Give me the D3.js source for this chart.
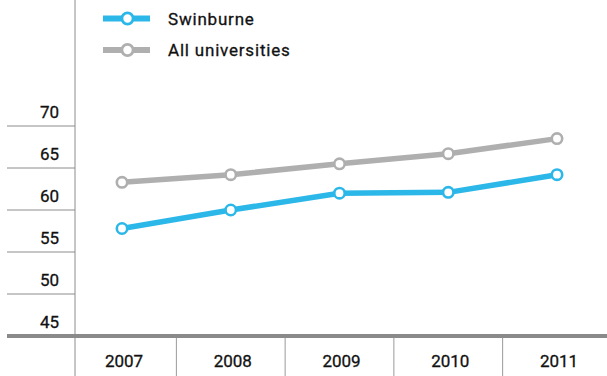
<!DOCTYPE html>
<html><head><meta charset="utf-8">
<script src="https://cdn.jsdelivr.net/npm/d3@7"></script>
<style>html,body{margin:0;padding:0;background:#fff;overflow:hidden}</style>
</head><body>
<svg id="chart" width="607" height="376"></svg>
<script>
const years = ["2007","2008","2009","2010","2011"];
const swinburne = [57.8, 60, 62, 62.1, 64.2];
const allUnis = [63.3, 64.2, 65.5, 66.7, 68.5];
const yTicks = [70, 65, 60, 55, 50, 45];
const seriesNames = ["Swinburne", "All universities"];
const colors = ["#2cb7e9", "#afafaf"];

const svg = d3.select("#chart");
const font = "Roboto, 'DejaVu Sans', sans-serif";
const axisX = 75;

const x = d3.scalePoint().domain(years).range([122, 557]);
const y = d3.scaleLinear().domain([45, 70]).range([336, 126]);

// y tick lines and labels
yTicks.filter(t => t !== 45).forEach(t => {
  svg.append("line").attr("x1", 7).attr("x2", axisX).attr("y1", y(t)).attr("y2", y(t))
    .attr("stroke", "#8c8c8c").attr("stroke-width", 1);
});
yTicks.forEach(t => {
  svg.append("text").attr("x", 59).attr("y", y(t) - 8).attr("text-anchor", "end")
    .attr("font-family", font).attr("font-size", 17)
    .attr("fill", "#111").attr("stroke", "#111").attr("stroke-width", 0.3).text(t);
});

// vertical axis
svg.append("line").attr("x1", axisX).attr("x2", axisX).attr("y1", 0).attr("y2", 376)
  .attr("stroke", "#8c8c8c").attr("stroke-width", 1);

// bottom bar
svg.append("line").attr("x1", 7).attr("x2", 607).attr("y1", y(45)).attr("y2", y(45))
  .attr("stroke", "#8a8a8a").attr("stroke-width", 4);

// year separators and labels
const step = x.step();
years.forEach((yr, i) => {
  if (i > 0) {
    const sx = x(yr) - step / 2;
    svg.append("line").attr("x1", sx).attr("x2", sx).attr("y1", y(45) + 2).attr("y2", 376)
      .attr("stroke", "#9a9a9a").attr("stroke-width", 1);
  }
  svg.append("text").attr("x", x(yr) + 2).attr("y", 367).attr("text-anchor", "middle")
    .attr("font-family", font).attr("font-size", 17)
    .attr("fill", "#111").attr("stroke", "#111").attr("stroke-width", 0.3).text(yr);
});

const line = d3.line().x((d, i) => x(years[i])).y(d => y(d));
[allUnis, swinburne].forEach((vals, k) => {
  const c = k === 0 ? colors[1] : colors[0];
  svg.append("path").datum(vals).attr("d", line).attr("fill", "none")
    .attr("stroke", c).attr("stroke-width", 5.5).attr("stroke-linejoin", "round");
  svg.selectAll(null).data(vals).enter().append("circle")
    .attr("cx", (d, i) => x(years[i])).attr("cy", d => y(d)).attr("r", 5.2)
    .attr("fill", "#fff").attr("stroke", c).attr("stroke-width", 2.6);
});

// legend
seriesNames.forEach((name, i) => {
  const ly = 18.5 + i * 31.5;
  svg.append("line").attr("x1", 103).attr("x2", 150).attr("y1", ly).attr("y2", ly)
    .attr("stroke", colors[i]).attr("stroke-width", 6);
  svg.append("circle").attr("cx", 127.5).attr("cy", ly).attr("r", 5.6)
    .attr("fill", "#fff").attr("stroke", colors[i]).attr("stroke-width", 2.8);
  svg.append("text").attr("x", 168).attr("y", ly + 6).attr("font-family", font)
    .attr("font-size", 17).attr("letter-spacing", "0.8px")
    .attr("fill", "#111").attr("stroke", "#111").attr("stroke-width", 0.3).text(name);
});
</script>
</body></html>
